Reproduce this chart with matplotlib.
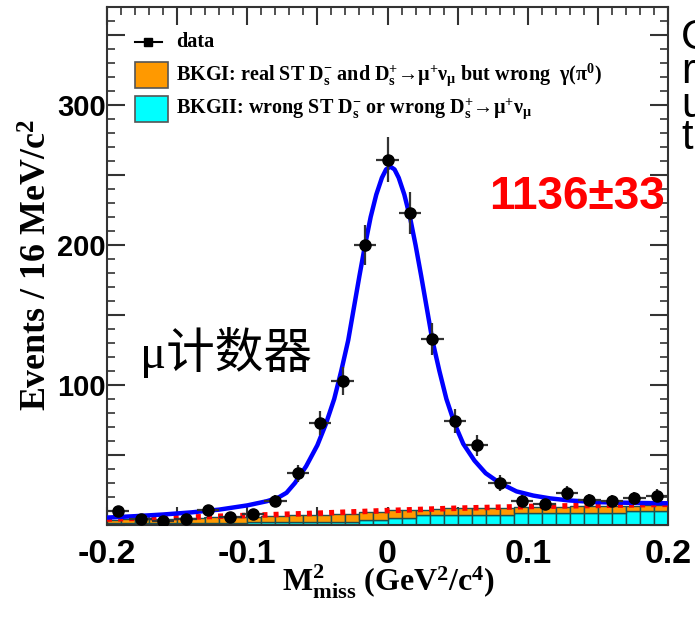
import numpy as np
import matplotlib
matplotlib.use("Agg")
import matplotlib.pyplot as plt
from matplotlib.patches import Rectangle
from matplotlib.lines import Line2D
from matplotlib.ticker import MultipleLocator

plt.rcParams["mathtext.fontset"] = "custom"
plt.rcParams["mathtext.rm"] = "Liberation Serif:bold"
plt.rcParams["mathtext.bf"] = "Liberation Serif:bold"
plt.rcParams["mathtext.it"] = "Liberation Serif:bold:italic"

# ---- data histogram (16 MeV bins) ----
data_lo, data_hi, data_nbins = -0.2, 0.2, 25
counts = [10, 4, 3, 4, 11, 6, 8, 17, 37, 73, 103, 200, 261, 223, 133,
          74, 57, 30, 17, 15, 23, 18, 17, 19, 21]

# ---- background histograms (10 MeV bins) ----
bkg_lo, bkg_hi, bkg_nbins = -0.2, 0.2, 40
bkg2 = [1.2, 1.2, 1.5, 1.5, 1.5, 1.5, 1.5, 1.5, 1.5, 1.5, 1.8, 1.8, 1.8, 1.8,
        2.4, 2.4, 2.4, 2.4, 3.6, 3.6, 4.8, 4.8,
        7.0, 7.0, 7.0, 7.0, 7.0, 7.0, 7.0,
        8.8, 8.8, 8.8, 8.8, 8.8, 8.8, 8.8, 8.8, 10.0, 10.0, 10.0]
bkg1 = [2.6, 2.8, 2.7, 3.0, 3.0, 3.5, 3.5, 4.0, 4.0, 4.5, 4.2, 4.5, 4.7, 5.2,
        5.1, 5.1, 5.4, 5.4, 5.9, 5.9, 5.7, 5.7,
        3.8, 4.7, 5.4, 5.4, 5.2, 4.8, 4.8,
        4.3, 4.3, 4.3, 4.3, 4.5, 4.5, 4.6, 4.8, 3.8, 4.2, 4.2]

# ---- fitted total shape ----
fit_x = [-0.200, -0.180, -0.160, -0.140, -0.120, -0.100, -0.086, -0.078,
         -0.072, -0.066, -0.058, -0.050, -0.044, -0.038, -0.033, -0.028,
         -0.024, -0.020, -0.016, -0.012, -0.008, -0.004, -0.001, 0.002,
         0.005, 0.008, 0.012, 0.016, 0.020, 0.024, 0.028, 0.032, 0.037,
         0.042, 0.048, 0.054, 0.062, 0.070, 0.080, 0.092, 0.104, 0.116,
         0.130, 0.150, 0.175, 0.200]
fit_y = [5.3, 6.3, 7.5, 9.0, 11.0, 14.0, 17.0, 19.5,
         23.0, 30.0, 42.0, 57.0, 72.0, 90.0, 110.0, 132.0,
         155.0, 178.0, 200.0, 220.0, 236.0, 248.0, 254.0, 256.0,
         254.0, 248.0, 236.0, 220.0, 200.0, 178.0, 155.0, 132.0, 110.0,
         90.0, 72.0, 58.0, 46.0, 37.0, 30.0, 24.0, 21.0, 19.0,
         17.5, 16.3, 15.8, 15.5]

# ---- fitted background shape ----
bkgfit_x = [-0.20, -0.15, -0.10, -0.05, 0.00, 0.05, 0.10, 0.15, 0.20]
bkgfit_y = [4.3, 5.4, 6.8, 8.4, 10.3, 12.0, 13.2, 14.0, 14.8]

yield_text = "1136\u00b133"
x_ticks = [-0.2, -0.15, -0.1, -0.05, 0, 0.05, 0.1, 0.15, 0.2]
x_ticklabels = ["-0.2", "", "-0.1", "", "0", "", "0.1", "", "0.2"]
y_ticks = [0, 50, 100, 150, 200, 250, 300, 350]
y_ticklabels = ["", "", "100", "", "200", "", "300", ""]

W, H = 695, 618
fig = plt.figure(figsize=(W / 100, H / 100), dpi=100)
ax = fig.add_axes([107 / W, 1 - 525 / H, (668 - 107) / W, (525 - 7) / H])

# backgrounds (stacked)
bkg_edges = np.linspace(bkg_lo, bkg_hi, bkg_nbins + 1)
bw = bkg_edges[1] - bkg_edges[0]
edge_col = "#1d4f4f"
ax.bar(bkg_edges[:-1], bkg2, width=bw, align="edge", color="#00ffff",
       edgecolor=edge_col, linewidth=1.0, zorder=2)
ax.bar(bkg_edges[:-1], bkg1, width=bw, align="edge", bottom=bkg2,
       color="#ff9900", edgecolor=edge_col, linewidth=1.0, zorder=2)

# background fit and total fit
ax.plot(bkgfit_x, bkgfit_y, color="#ff0000", lw=4, ls=(0, (0.9, 1.1)),
        zorder=3)
ax.plot(fit_x, fit_y, color="#0000ff", lw=3.2, zorder=4,
        solid_joinstyle="round")

# data points
d_edges = np.linspace(data_lo, data_hi, data_nbins + 1)
centers = 0.5 * (d_edges[:-1] + d_edges[1:])
half = 0.5 * (d_edges[1] - d_edges[0])
cnt = np.array(counts, dtype=float)
ax.errorbar(centers, cnt, yerr=np.sqrt(cnt), xerr=half, fmt="o",
            color="black", ecolor="#333333", elinewidth=1.6, markersize=8,
            capsize=0, zorder=5)

ax.set_xlim(-0.2, 0.2)
ax.set_ylim(0, 370)

# ticks
ax.xaxis.set_minor_locator(MultipleLocator(0.01))
ax.yaxis.set_minor_locator(MultipleLocator(10))
ax.set_xticks(x_ticks)
ax.set_xticklabels(x_ticklabels, fontfamily="Liberation Sans",
                   fontweight="bold", fontsize=24.5)
ax.set_yticks(y_ticks)
ax.set_yticklabels(y_ticklabels, fontfamily="Liberation Sans",
                   fontweight="bold", fontsize=21)
ax.tick_params(which="both", direction="in", top=True, right=True,
               color="#333333")
ax.tick_params(which="major", length=13, width=1.5)
ax.tick_params(which="minor", length=6, width=1.2)
ax.tick_params(axis="x", which="major", pad=10)
ax.tick_params(axis="y", which="major", pad=1)
for sp in ax.spines.values():
    sp.set_linewidth(1.5)
    sp.set_color("#333333")

# axis titles
fig.text(38 / W, 1 - 265 / H, r"Events / 16 MeV/c$^\mathrm{2}$",
         rotation=90, ha="center", va="center",
         fontfamily="Liberation Serif", fontweight="bold", fontsize=25.8)
fig.text(389 / W, 1 - 582 / H,
         r"M$^\mathrm{2}_\mathrm{miss}$ (GeV$^\mathrm{2}$/c$^\mathrm{4}$)",
         ha="center", va="center", fontfamily="Liberation Serif",
         fontweight="bold", fontsize=23)

# legend
serif = dict(fontfamily="Liberation Serif", fontweight="bold", fontsize=14.5,
             va="center", ha="left")
fig.add_artist(Line2D([135 / W, 162 / W], [1 - 42 / H, 1 - 42 / H],
                      color="black", lw=1.5))
fig.add_artist(Line2D([148 / W], [1 - 42 / H], marker="s", color="black",
                      markersize=6))
fig.text(176 / W, 1 - 42 / H, "data", **serif)
fig.add_artist(Rectangle((135 / W, 1 - 88 / H), 33 / W, 26 / H,
                         facecolor="#ff9900", edgecolor="#555555", lw=1.2))
fig.text(176 / W, 1 - 75 / H,
         "BKGI: real ST D$_\\mathrm{s}^\\mathrm{-}$ and "
         "D$_\\mathrm{s}^\\mathrm{+}$\u2192\u03bc$^\\mathrm{+}$\u03bd"
         "$_\\mathrm{\\mu}$ but wrong  \u03b3(\u03c0$^\\mathrm{0}$)",
         **serif)
fig.add_artist(Rectangle((135 / W, 1 - 122 / H), 33 / W, 26 / H,
                         facecolor="#00ffff", edgecolor="#555555", lw=1.2))
fig.text(176 / W, 1 - 109 / H,
         "BKGII: wrong ST D$_\\mathrm{s}^\\mathrm{-}$ or wrong "
         "D$_\\mathrm{s}^\\mathrm{+}$\u2192\u03bc$^\\mathrm{+}$\u03bd"
         "$_\\mathrm{\\mu}$", **serif)

# annotations
fig.text(665 / W, 1 - 197 / H, yield_text, color="#ff0000",
         fontfamily="Liberation Sans", fontweight="bold", fontsize=33,
         ha="right", va="center")
fig.text(140 / W, 1 - 353 / H, "\u03bc\u8ba1\u6570\u5668",
         fontfamily=["Liberation Serif", "Noto Sans CJK SC"], fontsize=35,
         ha="left", va="center")

# text running in from the right margin
for ch, yy in zip(["C", "r", "u", "t"], [38, 72, 106, 138]):
    fig.text(681 / W, 1 - yy / H, ch, fontfamily="Liberation Sans",
             fontsize=30, ha="left", va="center")

fig.savefig("out.png", dpi=100)
